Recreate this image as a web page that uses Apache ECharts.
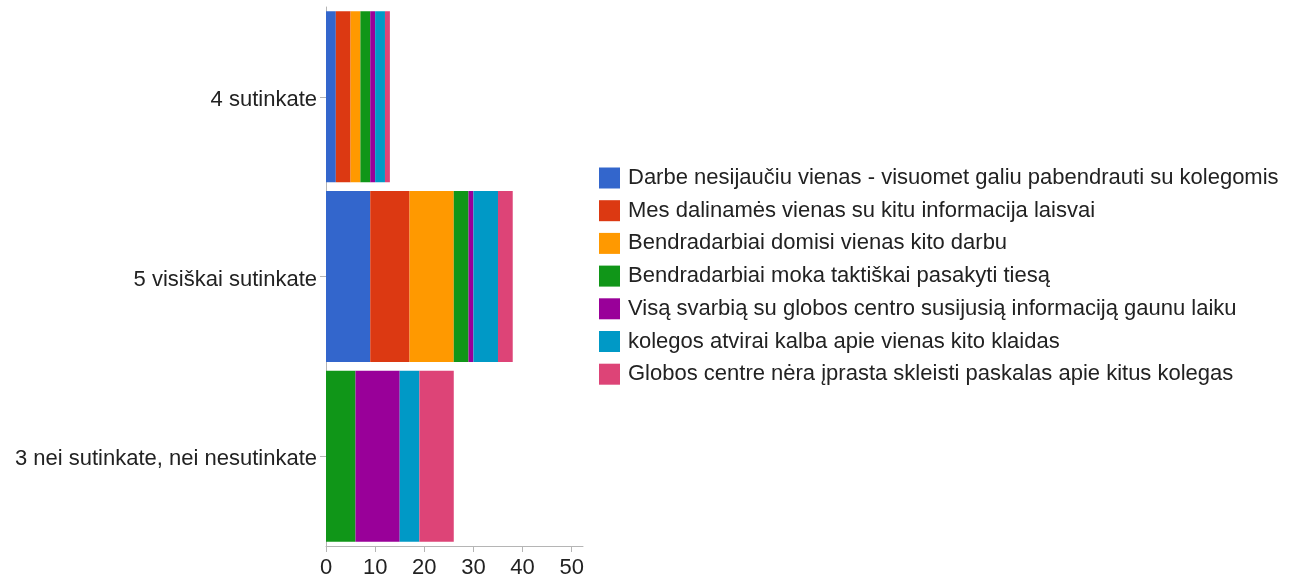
<!DOCTYPE html>
<html>
<head>
<meta charset="utf-8">
<script src="https://cdn.jsdelivr.net/npm/echarts@6/dist/echarts.min.js"></script>
<style>
    html, body { margin: 0; padding: 0; background: #fff; }
    #chart { width: 1299px; height: 580px; }
</style>
</head>
<body>
<div id="chart"></div>
<script>
//类别（自上而下）
var categories = ["4 sutinkate", "5 visiškai sutinkate", "3 nei sutinkate, nei nesutinkate"];

var seriesNames = [
    "Darbe nesijaučiu vienas - visuomet galiu pabendrauti su kolegomis",
    "Mes dalinamės vienas su kitu informacija laisvai",
    "Bendradarbiai domisi vienas kito darbu",
    "Bendradarbiai moka taktiškai pasakyti tiesą",
    "Visą svarbią su globos centro susijusią informaciją gaunu laiku",
    "kolegos atvirai kalba apie vienas kito klaidas",
    "Globos centre nėra įprasta skleisti paskalas apie kitus kolegas"
];

var colors = ["#3366cc", "#dc3912", "#ff9900", "#109618", "#990099", "#0099c6", "#dd4477"];

//每个系列的数值，顺序同 categories
var darbe = [2, 9, 0];
var dalinames = [3, 8, 0];
var domisi = [2, 9, 0];
var taktiskai = [2, 3, 6];
var informacija = [1, 1, 9];
var klaidas = [2, 5, 4];
var paskalas = [1, 3, 7];

var seriesData = [darbe, dalinames, domisi, taktiskai, informacija, klaidas, paskalas];

var xTicks = [0, 10, 20, 30, 40, 50];

var fontFamily = '"Liberation Sans", Arial, sans-serif';

var series = [];
for (var i = 0; i < seriesNames.length; i++) {
    series.push({
        name: seriesNames[i],
        type: 'bar',
        stack: 'total',
        barCategoryGap: '4.8%',
        itemStyle: { color: colors[i] },
        data: seriesData[i]
    });
}

var option = {
    backgroundColor: '#fff',
    animation: false,
    textStyle: { fontFamily: fontFamily },
    grid: {
        left: 326,
        top: 7,
        width: 257,
        height: 539
    },
    legend: {
        orient: 'vertical',
        left: 599,
        top: 167,
        padding: 0,
        itemWidth: 21,
        itemHeight: 21,
        itemGap: 10.7,
        icon: 'rect',
        selectedMode: false,
        textStyle: { fontSize: 22, lineHeight: 22, color: '#222', fontFamily: fontFamily, padding: [0, 0, 0, 3] },
        data: seriesNames
    },
    xAxis: {
        type: 'value',
        min: 0,
        max: 52.3,
        splitLine: { show: false },
        axisLine: { show: true, lineStyle: { color: '#b5b5b5', width: 1 } },
        axisTick: { show: true, length: 6, lineStyle: { color: '#b5b5b5' }, customValues: xTicks },
        axisLabel: { margin: 11, fontSize: 22, color: '#222', customValues: xTicks }
    },
    yAxis: {
        type: 'category',
        inverse: true,
        data: categories,
        axisLine: { show: true, lineStyle: { color: '#b5b5b5', width: 1 } },
        axisTick: { show: true, alignWithLabel: true, length: 6, lineStyle: { color: '#b5b5b5' } },
        axisLabel: {
            margin: 9,
            formatter: '{a|{value}}',
            rich: {
                a: { fontSize: 22, color: '#222', fontFamily: fontFamily, padding: [6, 0, 0, 0] }
            }
        }
    },
    series: series
};

var myChart = echarts.init(document.getElementById('chart'));
myChart.setOption(option);
</script>
</body>
</html>
